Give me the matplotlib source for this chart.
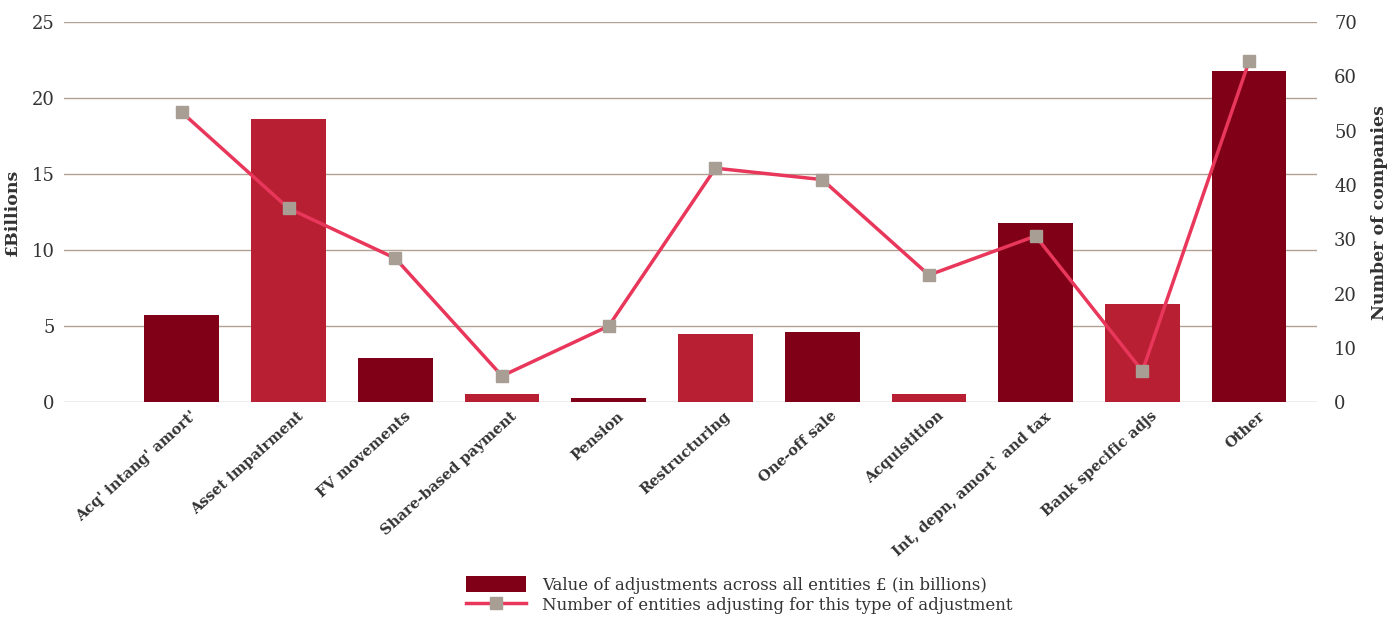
import numpy as np
import matplotlib.pyplot as plt
from matplotlib.lines import Line2D
from matplotlib.patches import Patch

#Data
categories = ["Acq' intang' amort'", "Asset impairment", "FV movements", "Share-based payment",
              "Pension", "Restructuring", "One-off sale", "Acquistition",
              "Int, depn, amort` and tax", "Bank specific adjs", "Other"]
value_bn = [5.7, 18.6, 2.9, 0.5, 0.25, 4.5, 4.6, 0.5, 11.8, 6.45, 21.8]
num_companies = [53.4, 35.7, 26.5, 4.8, 14, 43.1, 41, 23.4, 30.6, 5.7, 62.8]

dark_red = "#800018"
light_red = "#B81F33"
line_col = "#E8375A"
marker_col = "#A89E94"
grid_col = "#B3A293"
text_col = "#333333"

plt.rcParams['font.family'] = ['DejaVu Serif']

fig = plt.figure(figsize=(14, 6.18), dpi=100)
ax = fig.add_axes([0.046, 0.3495, 0.895, 0.6145])
ax2 = ax.twinx()

x = np.arange(len(categories))
colors = [dark_red if i % 2 == 0 else light_red for i in range(len(categories))]

#Bars
ax.bar(x, value_bn, width=0.7, color=colors, zorder=2)
ax.set_ylim(0, 25)
ax.set_yticks(range(0, 26, 5))
ax.set_xlim(-1.1, 10.64)
ax.grid(axis='y', color=grid_col, linewidth=1, zorder=0)
ax.set_axisbelow(True)
for s in ax.spines.values():
    s.set_visible(False)
ax.tick_params(axis='y', length=0, labelsize=13, labelcolor=text_col, pad=7)
ax.set_xticks(x + 0.08)
ax.set_xticklabels(categories, rotation=42, ha='right', rotation_mode='anchor',
                   fontsize=10.5, fontweight='bold', color=text_col)
ax.tick_params(axis='x', length=0, pad=5)
ax.set_ylabel("£Billions", fontsize=12.5, fontweight='bold', color=text_col, labelpad=8)

#Line
ax2.plot(x, num_companies, color=line_col, linewidth=2.5, marker='s', markersize=9,
         markerfacecolor=marker_col, markeredgecolor=marker_col, zorder=3)
ax2.set_ylim(0, 70)
ax2.set_yticks(range(0, 71, 10))
for s in ax2.spines.values():
    s.set_visible(False)
ax2.tick_params(axis='y', length=0, labelsize=13, labelcolor=text_col, pad=12)
ax2.set_ylabel("Number of companies", fontsize=12.5, fontweight='bold', color=text_col, labelpad=10)

#Legend
handles = [Patch(facecolor=dark_red, edgecolor='none'),
           Line2D([0], [0], color=line_col, linewidth=2.5, marker='s', markersize=9,
                  markerfacecolor=marker_col, markeredgecolor=marker_col)]
labels = ["Value of adjustments across all entities £ (in billions)",
          "Number of entities adjusting for this type of adjustment"]
fig.legend(handles, labels, loc='center', bbox_to_anchor=(0.528, 0.037), frameon=False,
           fontsize=12, handlelength=3.6, handleheight=1.1, labelspacing=0.15,
           handletextpad=1.0, labelcolor=text_col)

fig.savefig("out.png", dpi=100)
